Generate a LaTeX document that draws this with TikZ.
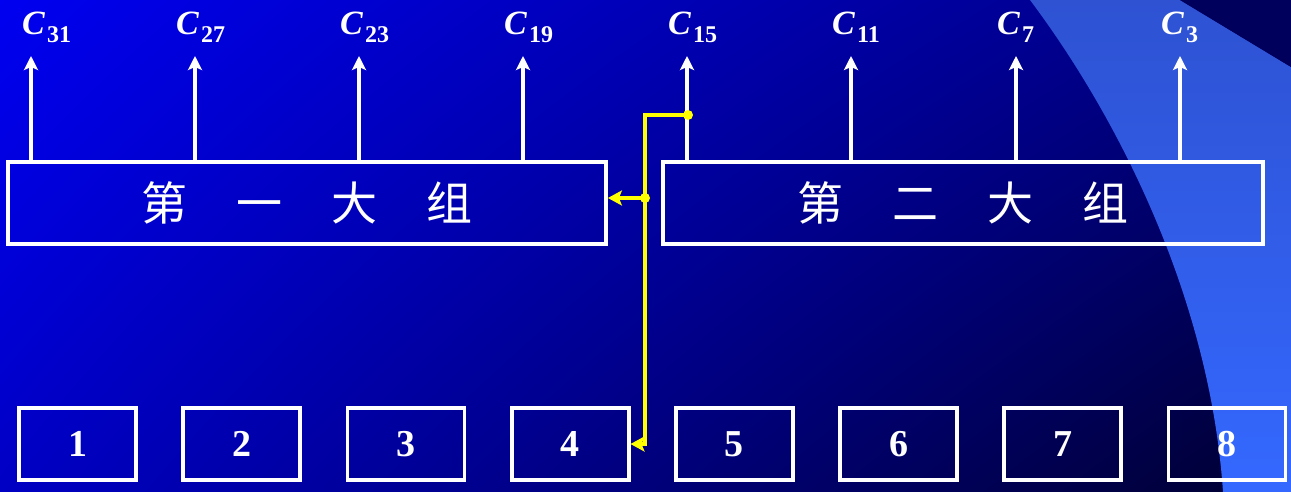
\documentclass[tikz,border=0pt]{standalone}
\usepackage{fontspec}
\setmainfont{Liberation Serif}
\newfontfamily\cjk{Noto Sans CJK SC}
\usetikzlibrary{arrows.meta,shadings}
\definecolor{bgUL}{HTML}{0000F0}
\definecolor{bgUR}{HTML}{000080}
\definecolor{bgLL}{HTML}{0000C4}
\definecolor{bgLR}{HTML}{000030}
\definecolor{bandTop}{HTML}{2E52D2}
\definecolor{bandBot}{HTML}{3468FF}
\definecolor{cornerdark}{HTML}{00005C}
\definecolor{ylw}{HTML}{FFFF00}
\tikzset{
  bigbox/.style={draw=white, line width=3.8pt, minimum width=598pt, minimum height=82pt, inner sep=0pt, text=white,
                 font=\cjk\fontsize{46}{46}\selectfont},
  smallbox/.style={draw=white, line width=3.8pt, minimum width=117pt, minimum height=72pt, inner sep=0pt, text=white,
                 font=\fontsize{38}{38}\selectfont\bfseries},
  clabel/.style={anchor=base west, inner sep=0pt, text=white},
  warrow/.style={draw=white, line width=3.6pt, -{Stealth[length=14pt,width=14pt,inset=3pt]}},
  yline/.style={draw=ylw, line width=4.8pt, line join=miter},
  yarrow/.style={yline, -{Stealth[length=14pt,width=15pt,inset=3pt]}},
}
\newcommand{\clab}[1]{\fontsize{34}{34}\selectfont\textbf{\textit{C}}\hspace{2pt}\raisebox{-8pt}{\fontsize{24}{24}\selectfont\textbf{#1}}}
\begin{document}
\begin{tikzpicture}[x=1pt,y=-1pt]
\useasboundingbox (0,0) rectangle (1291,492);
% background
\shade[upper left=bgUL, upper right=bgUR, lower left=bgLL, lower right=bgLR] (0,0) rectangle (1291,492);
\shade[top color=bandTop, bottom color=bandBot] (1030,0) -- (1180,0) -- (1291,67) -- (1291,492) -- (1223,492)
   .. controls (1210,300) and (1120,120) .. (1030,0) -- cycle;
\fill[cornerdark] (1180,0) -- (1291,0) -- (1291,67) -- cycle;
% big boxes
\node[bigbox] (g1) at (307,203) {第\hspace{49pt}一\hspace{49pt}大\hspace{49pt}组};
\node[bigbox, minimum width=600pt] (g2) at (963,203) {第\hspace{49pt}二\hspace{49pt}大\hspace{49pt}组};
% small boxes
\foreach \i in {1,...,8} {
  \node[smallbox] (b\i) at ({77.5+164.2*(\i-1)},444) {\i};
}
% top labels and arrows
\foreach \x/\n/\lx [count=\i] in {31/31/22,195/27/176,359/23/340,523/19/504,687/15/668,851/11/832,1016/7/997,1180/3/1161} {
  \coordinate (t\i) at (\x,56);
  \node[clabel] (c\i) at (\lx,35) {\clab{\n}};
}
\foreach \i in {1,...,4} { \draw[warrow] (g1.north -| t\i) -- (t\i); }
\foreach \i in {5,...,8} { \draw[warrow] (g2.north -| t\i) -- (t\i); }
% yellow connector
\coordinate (ya) at (688,115);
\coordinate (yb) at (645,115);
\coordinate (yc) at (645,198);
\coordinate (yd) at (645,444);
\draw[yarrow] (ya) -- (yb) -- (yd) -- (b4.east |- yd);
\draw[yarrow] (yc) -- (g1.east |- yc);
\fill[ylw] (ya) circle (5pt);
\fill[ylw] (yc) circle (5pt);
\end{tikzpicture}
\end{document}
